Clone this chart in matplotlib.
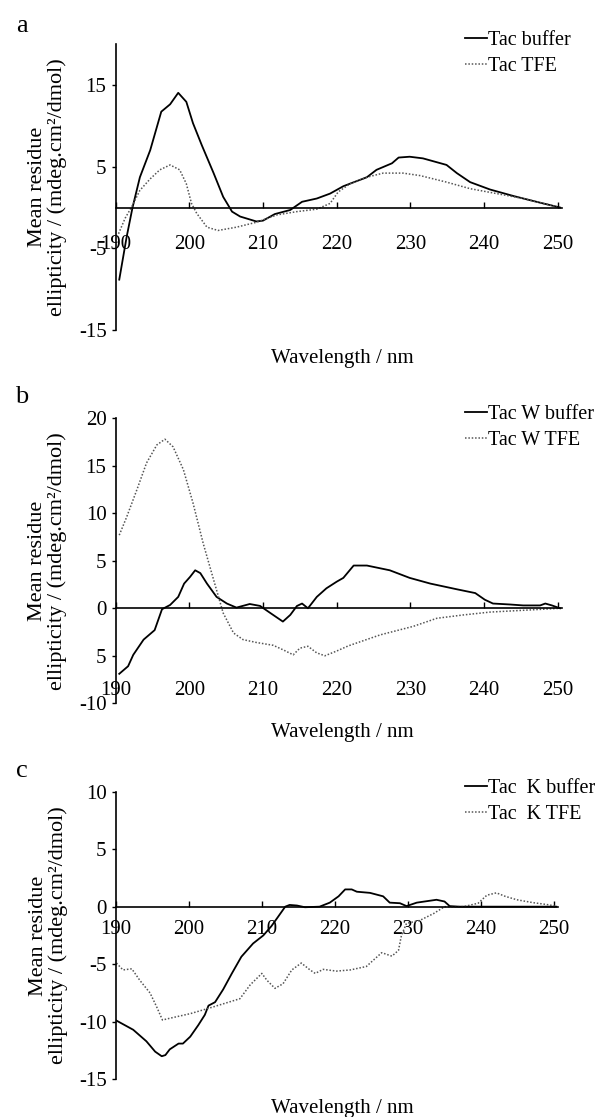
import matplotlib
matplotlib.use("Agg")
import matplotlib.pyplot as plt
from matplotlib.lines import Line2D

plt.rcParams["font.family"] = ["Liberation Serif", "DejaVu Serif"]

# panel a: Tac
wl_a_buf = [190.5, 191.5, 192.3, 193.3, 194.7, 196.2, 197.4, 198.5, 199.6, 200.5,
            201.7, 203.3, 204.6, 205.8, 206.9, 209.1, 210.0, 211.6, 213.7, 215.3,
            217.3, 219.1, 220.9, 224.1, 225.4, 227.5, 228.4, 229.9, 231.7, 234.9,
            236.3, 238.1, 240.8, 244.0, 247.1, 250.3]
cd_a_buf = [-8.8, -3.6, 0.0, 3.7, 7.0, 11.7, 12.6, 14.0, 12.9, 10.3,
            7.6, 4.2, 1.3, -0.5, -1.1, -1.7, -1.6, -0.8, -0.3, 0.7,
            1.1, 1.7, 2.6, 3.7, 4.6, 5.4, 6.1, 6.2, 6.0, 5.2,
            4.2, 3.1, 2.2, 1.4, 0.7, 0.0]
wl_a_tfe = [190.4, 191.3, 192.2, 193.3, 194.7, 196.0, 197.4, 198.7, 199.6, 200.3,
            201.0, 202.4, 203.9, 206.4, 209.1, 211.9, 214.6, 217.3, 219.1, 220.2,
            221.8, 224.1, 226.3, 229.0, 231.3, 234.9, 238.1, 241.7, 245.3, 248.0,
            249.9]
cd_a_tfe = [-3.2, -1.3, 0.1, 2.1, 3.5, 4.6, 5.2, 4.6, 2.9, 0.5,
            -0.7, -2.4, -2.8, -2.4, -1.8, -0.9, -0.5, -0.2, 0.5, 1.9,
            2.9, 3.7, 4.2, 4.2, 3.9, 3.1, 2.3, 1.7, 1.1, 0.5,
            0.1]

# panel b: Tac W
wl_b_buf = [190.5, 191.7, 192.4, 193.8, 195.3, 196.3, 197.4, 198.5, 199.3, 200.1,
            200.8, 201.5, 202.4, 203.7, 205.1, 206.4, 208.2, 209.6, 211.0, 212.7,
            213.7, 214.6, 215.3, 216.1, 217.3, 218.6, 220.0, 220.9, 222.3, 224.1,
            227.2, 229.9, 232.7, 236.3, 238.8, 240.1, 241.2, 243.5, 245.3, 247.6,
            248.3, 249.2, 250.3]
cd_b_buf = [-6.9, -6.1, -4.9, -3.3, -2.3, -0.1, 0.35, 1.2, 2.6, 3.3,
            4.0, 3.7, 2.6, 1.2, 0.5, 0.07, 0.45, 0.25, -0.5, -1.4,
            -0.7, 0.24, 0.5, 0.0, 1.2, 2.1, 2.8, 3.2, 4.5, 4.5,
            4.0, 3.2, 2.6, 2.0, 1.6, 0.9, 0.5, 0.4, 0.3, 0.3,
            0.5, 0.3, 0.0]
wl_b_tfe = [190.5, 191.5, 192.9, 194.2, 195.6, 196.7, 197.8, 199.2, 200.5, 201.9,
            203.3, 204.6, 206.0, 207.3, 209.1, 211.4, 212.8, 214.1, 215.0, 216.1,
            217.3, 218.4, 220.0, 221.6, 225.9, 230.4, 233.6, 237.2, 240.8, 244.4,
            248.0, 250.3]
cd_b_tfe = [7.7, 9.6, 12.5, 15.3, 17.2, 17.8, 17.0, 14.6, 11.1, 6.8,
            3.0, -0.5, -2.6, -3.3, -3.6, -3.9, -4.4, -4.9, -4.2, -4.0,
            -4.7, -5.0, -4.5, -3.95, -2.8, -1.9, -1.05, -0.7, -0.4, -0.25,
            -0.1, 0.0]

# panel c: Tac K
wl_c_buf = [190.1, 192.4, 194.2, 195.4, 196.3, 196.8, 197.4, 198.6, 199.2, 200.2,
            201.3, 202.2, 202.7, 203.6, 204.7, 205.9, 207.2, 208.8, 210.2, 211.3,
            212.2, 213.2, 213.8, 214.8, 215.9, 217.9, 219.3, 220.5, 221.4, 222.3,
            223.0, 224.8, 226.6, 227.5, 228.9, 229.8, 231.2, 233.9, 235.0, 235.7,
            237.0, 250.3]
cd_c_buf = [-9.9, -10.7, -11.7, -12.6, -13.0, -12.9, -12.4, -11.9, -11.9, -11.3,
            -10.3, -9.4, -8.6, -8.3, -7.2, -5.8, -4.35, -3.2, -2.5, -1.7,
            -0.9, 0.0, 0.15, 0.1, -0.05, 0.0, 0.35, 0.9, 1.5, 1.5,
            1.3, 1.2, 0.9, 0.35, 0.3, 0.05, 0.35, 0.6, 0.45, 0.05,
            0.0, 0.0]
wl_c_tfe = [190.1, 191.0, 192.2, 193.3, 194.7, 195.6, 196.4, 197.4, 200.2, 202.9,
            207.0, 208.4, 210.0, 210.7, 211.8, 212.9, 214.1, 215.4, 216.6, 217.3,
            218.4, 220.2, 222.1, 224.3, 226.4, 227.8, 228.7, 229.1, 229.8, 231.6,
            233.5, 235.0, 237.6, 239.6, 240.8, 242.1, 243.3, 244.9, 247.1, 249.4,
            250.3]
cd_c_tfe = [-4.9, -5.5, -5.4, -6.4, -7.5, -8.7, -9.85, -9.7, -9.3, -8.8,
            -8.0, -6.8, -5.8, -6.4, -7.1, -6.7, -5.5, -4.9, -5.5, -5.8,
            -5.45, -5.6, -5.5, -5.2, -4.0, -4.3, -3.8, -2.5, -1.45, -1.2,
            -0.6, 0.0, 0.0, 0.3, 1.0, 1.2, 0.9, 0.6, 0.35, 0.15,
            0.0]

xticks = [190, 200, 210, 220, 230, 240, 250]

panels = [
    dict(letter="a", rect=[0.1923, 0.7042, 0.742, 0.2567], ylim=(-15, 20),
         yticks=[-15, -5, 5, 15], yticklabels=["-15", "-5", "5", "15"],
         xpad=19.5, letter_y=32, xlab_y=358,
         leg_top=30.5, labels=["Tac buffer", "Tac TFE"],
         buf=(wl_a_buf, cd_a_buf), tfe=(wl_a_tfe, cd_a_tfe)),
    dict(letter="b", rect=[0.1923, 0.3704, 0.742, 0.2551], ylim=(-10, 20),
         yticks=[-10, -5, 0, 5, 10, 15, 20],
         yticklabels=["-10", "5", "0", "5", "10", "15", "20"],
         xpad=52.5, letter_y=403, xlab_y=732,
         leg_top=404.5, labels=["Tac W buffer", "Tac W TFE"],
         buf=(wl_b_buf, cd_b_buf), tfe=(wl_b_tfe, cd_b_tfe)),
    dict(letter="c", rect=[0.1925, 0.0338, 0.7356, 0.2575], ylim=(-15, 10),
         yticks=[-15, -10, -5, 0, 5, 10],
         yticklabels=["-15", "-10", "-5", "0", "5", "10"],
         xpad=9.4, letter_y=777, xlab_y=1108,
         leg_top=778.5, labels=["Tac  K buffer", "Tac  K TFE"],
         buf=(wl_c_buf, cd_c_buf), tfe=(wl_c_tfe, cd_c_tfe)),
]

W, H = 601, 1117
fig = plt.figure(figsize=(W / 100, H / 100), dpi=100)

for p in panels:
    ax = fig.add_axes(p["rect"])
    ax.plot(*p["buf"], color="black", lw=1.3, solid_joinstyle="round")
    ax.plot(*p["tfe"], color="#555555", lw=1.1, linestyle=(0, (1, 1.2)))
    ax.set_xlim(190, 250.5)
    ax.set_ylim(*p["ylim"])

    for s in ["top", "right"]:
        ax.spines[s].set_visible(False)
    ax.spines["bottom"].set_position(("data", 0))
    ax.spines["bottom"].set_linewidth(1.2)
    ax.spines["left"].set_linewidth(1.2)

    ax.set_xticks(xticks)
    ax.set_xticklabels([str(t) for t in xticks])
    ax.set_yticks(p["yticks"])
    ax.set_yticklabels(p["yticklabels"])
    ax.tick_params(axis="x", direction="in", length=4.5, width=1.0,
                   pad=p["xpad"], labelsize=15)
    ax.tick_params(axis="y", direction="out", length=3, width=1.0,
                   pad=3.5, labelsize=15)

    ax.set_ylabel("Mean residue\nellipticity / (mdeg.cm\u00b2/dmol)",
                  fontsize=16, linespacing=1.0)
    ax.yaxis.set_label_coords(-0.109, 0.5)

    fig.text(342 / W, 1 - p["xlab_y"] / H, "Wavelength / nm", fontsize=15,
             ha="center", va="center")
    fig.text(22 / W, 1 - p["letter_y"] / H, p["letter"], fontsize=19,
             ha="center", va="baseline")

    handles = [Line2D([0], [0], color="black", lw=1.3),
               Line2D([0], [0], color="#555555", lw=1.1, linestyle=(0, (1, 1.2)))]
    ax.legend(handles, p["labels"], loc="upper left",
              bbox_to_anchor=(465 / W, 1 - p["leg_top"] / H),
              bbox_transform=fig.transFigure, frameon=False, fontsize=14.5,
              borderpad=0, borderaxespad=0, handlelength=1.1,
              handletextpad=0.02, labelspacing=0.35)

fig.savefig("out.png", dpi=100)
